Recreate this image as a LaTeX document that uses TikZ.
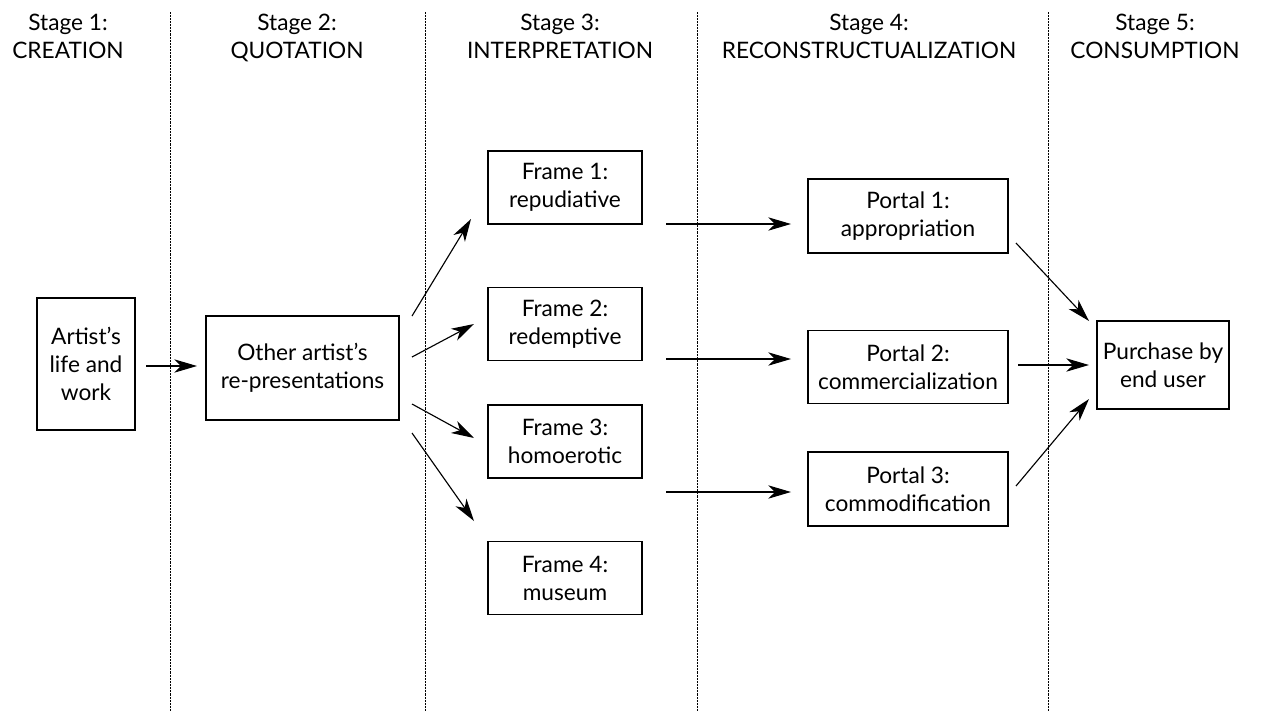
\documentclass[tikz,border=0pt]{standalone}
\usepackage{fontspec}
\setmainfont{Lato}
\usetikzlibrary{arrows.meta}
\begin{document}
\begin{tikzpicture}[x=0.75pt,y=-0.75pt,
  every node/.style={font=\fontsize{17}{21}\selectfont},
  box/.style={draw,line width=0.9pt,align=center,inner sep=0pt},
  head/.style={align=center,anchor=base},
  sep/.style={line width=0.5pt,dash pattern=on 0.5pt off 0.6pt},
  arr/.style={line width=0.85pt,-{Stealth[length=17pt,width=10pt,inset=5pt]}}]
\useasboundingbox (0,0) rectangle (1265,711);
% separators
\foreach \x/\n in {170/s1,425/s2,697/s3,1048/s4}{
  \coordinate (\n t) at (\x,12);
  \coordinate (\n b) at (\x,711);
  \draw[sep] (\n t) -- (\n b);
}
% headers
\node[head] (h1) at (68,58) {Stage 1:\\CREATION};
\node[head] (h2) at (297,58) {Stage 2:\\QUOTATION};
\node[head] (h3) at (560,58) {Stage 3:\\INTERPRETATION};
\node[head] (h4) at (869,58) {Stage 4:\\RECONSTRUCTUALIZATION};
\node[head] (h5) at (1155,58) {Stage 5:\\CONSUMPTION};
% boxes
\node[box,minimum width=98*0.75pt,minimum height=132*0.75pt] (a) at (86,364) {Artist's\\life and\\work};
\node[box,minimum width=193*0.75pt,minimum height=104*0.75pt] (o) at (302.5,368) {Other artist's\\re-presentations};
\node[box,minimum width=154*0.75pt,minimum height=73*0.75pt] (f1) at (565,187.5) {Frame 1:\\repudiative};
\node[box,minimum width=154*0.75pt,minimum height=73*0.75pt] (f2) at (565,324) {Frame 2:\\redemptive};
\node[box,minimum width=154*0.75pt,minimum height=73*0.75pt] (f3) at (565,441.5) {Frame 3:\\homoerotic};
\node[box,minimum width=154*0.75pt,minimum height=73*0.75pt] (f4) at (565,578) {Frame 4:\\museum};
\node[box,minimum width=200*0.75pt,minimum height=74*0.75pt] (p1) at (908,216) {Portal 1:\\appropriation};
\node[box,minimum width=200*0.75pt,minimum height=73*0.75pt] (p2) at (908,367) {Portal 2:\\commercialization};
\node[box,minimum width=200*0.75pt,minimum height=74*0.75pt] (p3) at (908,489) {Portal 3:\\commodification};
\node[box,minimum width=132*0.75pt,minimum height=88*0.75pt] (u) at (1163,365) {Purchase by\\end user};
% connector end points
\coordinate (a1) at (146,366); \coordinate (a2) at (197,366);
\coordinate (o1s) at (412,316); \coordinate (o1e) at (471,219);
\coordinate (o2s) at (412,357); \coordinate (o2e) at (474,324);
\coordinate (o3s) at (412,404); \coordinate (o3e) at (474,438);
\coordinate (o4s) at (412,433); \coordinate (o4e) at (474,521);
\coordinate (f1s) at (666,224); \coordinate (f1e) at (791,224);
\coordinate (f2s) at (666,359); \coordinate (f2e) at (791,359);
\coordinate (f3s) at (666,492); \coordinate (f3e) at (791,492);
\coordinate (p1s) at (1016,243); \coordinate (p1e) at (1089,321);
\coordinate (p2s) at (1018,365); \coordinate (p2e) at (1089,365);
\coordinate (p3s) at (1016,486); \coordinate (p3e) at (1089,399);
\draw[arr] (a1) -- (a2);
\draw[arr] (o1s) -- (o1e);
\draw[arr] (o2s) -- (o2e);
\draw[arr] (o3s) -- (o3e);
\draw[arr] (o4s) -- (o4e);
\draw[arr] (f1s) -- (f1e);
\draw[arr] (f2s) -- (f2e);
\draw[arr] (f3s) -- (f3e);
\draw[arr] (p1s) -- (p1e);
\draw[arr] (p2s) -- (p2e);
\draw[arr] (p3s) -- (p3e);
\end{tikzpicture}
\end{document}
